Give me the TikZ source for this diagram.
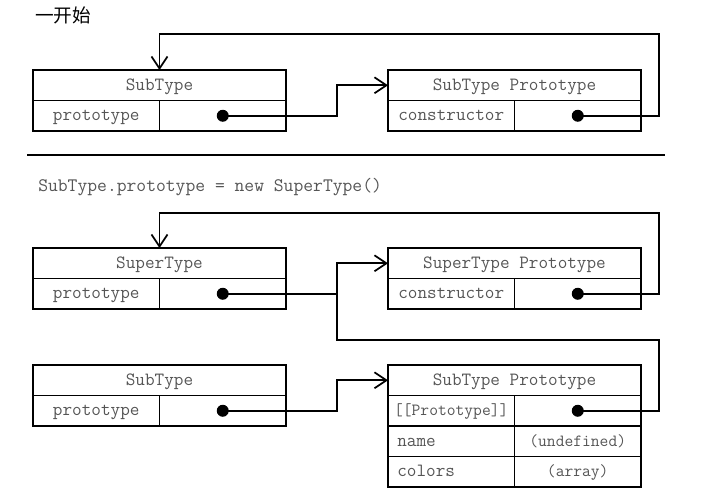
\documentclass[tikz,border=0pt]{standalone}
\usepackage{fontspec}
\usetikzlibrary{arrows.meta,calc}
\newfontfamily\cjk{Noto Sans CJK SC}
\definecolor{txtgray}{RGB}{85,85,85}
\tikzset{
  cell/.style={draw, line width=1.3pt, inner sep=0pt, outer sep=0pt, anchor=north west,
    minimum height=22.875pt, text height=1.8ex, text depth=0ex,
    font=\ttfamily\fontsize{14}{16}\selectfont, text=txtgray},
  hd/.style={cell, minimum width=189.75pt},
  hc/.style={cell, minimum width=94.875pt},
  lc/.style={hc, align=left, text width=80.875pt, inner xsep=7pt},
  sm/.style={font=\ttfamily\fontsize{12.8}{15}\selectfont},
  conn/.style={line width=1.3pt},
  arr/.style={conn, -{Straight Barb[length=9pt,width=12pt,line width=1.3pt]}},
  dotc/.style={fill=black},
}
\begin{document}
\begin{tikzpicture}[x=0.75pt,y=-0.75pt]
\useasboundingbox (0,0) rectangle (715,493);
% title
\node[anchor=west, font=\cjk\fontsize{14}{16}\selectfont, inner sep=0pt] (title) at (35,15) {一开始};
% top section
\node[hd] (sub1h) at (33,70) {SubType};
\node[hc] (sub1k) at (33,100.5) {prototype};
\node[hc] (sub1v) at (159.5,100.5) {};
\node[hd] (stp1h) at (388,70) {SubType Prototype};
\node[hc] (stp1k) at (388,100.5) {constructor};
\node[hc] (stp1v) at (514.5,100.5) {};
\fill[dotc] (sub1v.center) circle (4.5pt);
\fill[dotc] (stp1v.center) circle (4.5pt);
\draw[arr] (sub1v.center) -- ++(114.25,0) |- (stp1h.west);
\draw[arr] (stp1v.center) -- ++(81.25,0) |- ([yshift=27pt]sub1h.north) -- (sub1h.north);
% separator
\coordinate (sepL) at (27,155);
\coordinate (sepR) at (665,155);
\draw[line width=2pt] (sepL) -- (sepR);
% code line
\node[anchor=west, inner sep=0pt, font=\ttfamily\fontsize{14.3}{16}\selectfont, text=txtgray] (code) at (38,187) {SubType.prototype = new SuperType()};
% middle section
\node[hd] (sup2h) at (33,248) {SuperType};
\node[hc] (sup2k) at (33,278.5) {prototype};
\node[hc] (sup2v) at (159.5,278.5) {};
\node[hd] (spp2h) at (388,248) {SuperType Prototype};
\node[hc] (spp2k) at (388,278.5) {constructor};
\node[hc] (spp2v) at (514.5,278.5) {};
% bottom section
\node[hd] (sub3h) at (33,365) {SubType};
\node[hc] (sub3k) at (33,395.5) {prototype};
\node[hc] (sub3v) at (159.5,395.5) {};
\node[hd] (stp3h) at (388,365) {SubType Prototype};
\node[hc,sm] (stp3k1) at (388,395.5) {[[Prototype]]};
\node[hc] (stp3v1) at (514.5,395.5) {};
\node[lc] (stp3k2) at (388,426) {name};
\node[hc,sm] (stp3v2) at (514.5,426) {(undefined)};
\node[lc] (stp3k3) at (388,456.5) {colors};
\node[hc,sm] (stp3v3) at (514.5,456.5) {(array)};
% dots
\fill[dotc] (sup2v.center) circle (4.5pt);
\fill[dotc] (spp2v.center) circle (4.5pt);
\fill[dotc] (sub3v.center) circle (4.5pt);
\fill[dotc] (stp3v1.center) circle (4.5pt);
% connectors
\coordinate (jn) at ($(sup2v.center)+(114.25,0)$);
\draw[conn] (sup2v.center) -- (jn);
\draw[arr] (stp3v1.center) -- ++(81.25,0) |- ([yshift=18.75pt]stp3h.north -| jn) |- (spp2h.west);
\draw[arr] (spp2v.center) -- ++(81.25,0) |- ([yshift=26.25pt]sup2h.north) -- (sup2h.north);
\draw[arr] (sub3v.center) -- ++(114.25,0) |- (stp3h.west);
\end{tikzpicture}
\end{document}
